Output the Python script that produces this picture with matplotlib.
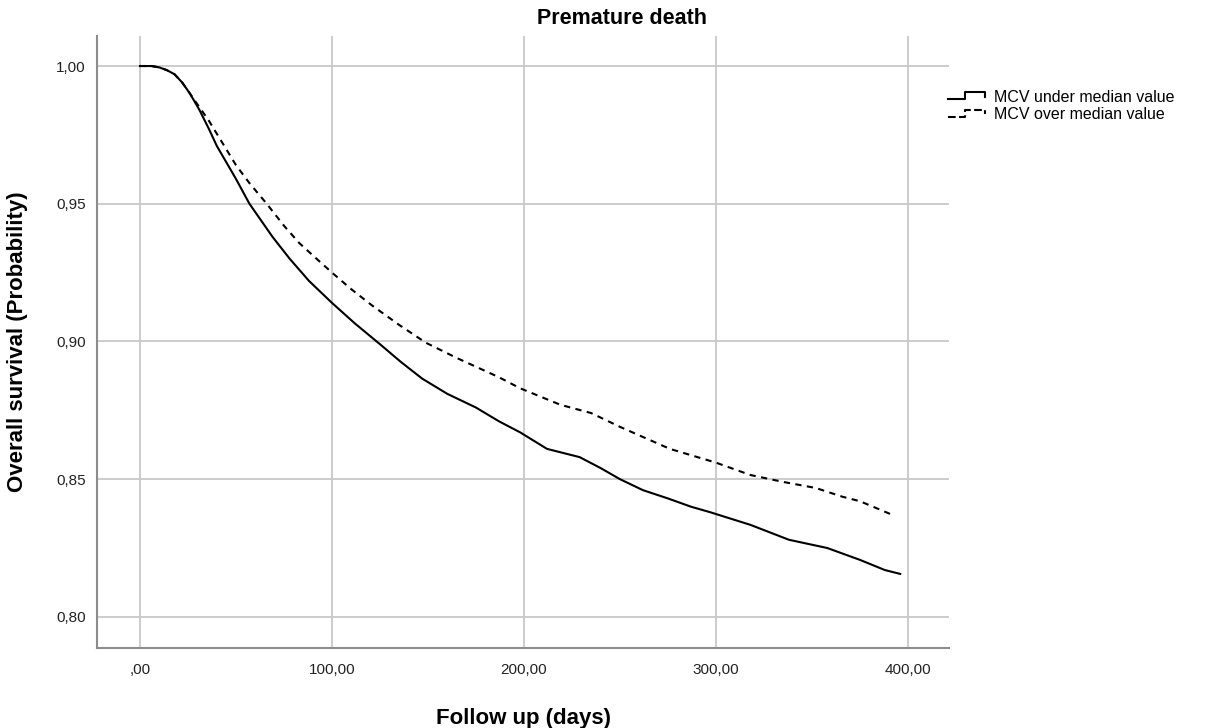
import numpy as np
import matplotlib
matplotlib.use("Agg")
import matplotlib.pyplot as plt
from matplotlib.lines import Line2D
from matplotlib.legend_handler import HandlerBase

plt.rcParams["font.family"] = ["Liberation Sans", "DejaVu Sans"]

# survival estimates (days, probability)
under_days = [0, 6, 10, 14, 18, 22, 26, 31, 36, 40, 45, 50, 57, 63, 69, 78, 88,
              100, 112, 125, 136, 147, 160, 175, 187, 198, 212, 229, 240, 250,
              262, 275, 287, 297, 318, 338, 358, 375, 388, 396]
under_surv = [1.000, 1.000, 0.9995, 0.9985, 0.997, 0.994, 0.990, 0.984, 0.977,
              0.971, 0.965, 0.959, 0.950, 0.944, 0.938, 0.930, 0.922, 0.914,
              0.9065, 0.899, 0.8925, 0.8865, 0.881, 0.876, 0.871, 0.867, 0.861,
              0.858, 0.854, 0.850, 0.846, 0.843, 0.840, 0.838, 0.8334, 0.828,
              0.825, 0.8207, 0.817, 0.8156]

over_days = [0, 6, 10, 14, 18, 22, 26, 31, 36, 43, 50, 57, 66, 75, 83, 92, 100,
             110, 121, 135, 149, 165, 187, 198, 219, 235, 250, 276, 300, 318,
             335, 352, 366, 375, 392]
over_surv = [1.000, 1.000, 0.9995, 0.9985, 0.997, 0.994, 0.990, 0.985, 0.980,
             0.972, 0.964, 0.9575, 0.950, 0.942, 0.9357, 0.930, 0.925, 0.919,
             0.913, 0.906, 0.8995, 0.894, 0.887, 0.883, 0.877, 0.874, 0.869,
             0.861, 0.856, 0.8515, 0.849, 0.8468, 0.8436, 0.842, 0.837]

series_labels = ["MCV under median value", "MCV over median value"]

x_ticks = [0, 100, 200, 300, 400]
x_tick_labels = [",00", "100,00", "200,00", "300,00", "400,00"]
y_ticks = [0.80, 0.85, 0.90, 0.95, 1.00]
y_tick_labels = ["0,80", "0,85", "0,90", "0,95", "1,00"]

DASH = (0, (3.0, 2.6))


class StepHandler(HandlerBase):
    # SPSS style little step glyph in the legend
    def create_artists(self, legend, orig_handle, xdescent, ydescent,
                       width, height, fontsize, trans):
        xs = np.array([0, 0.45, 0.45, 1.0, 1.0]) * width - xdescent
        ys = np.array([0.25, 0.25, 0.85, 0.85, 0.45]) * height - ydescent
        line = Line2D(xs, ys, color=orig_handle.get_color(),
                      linestyle=orig_handle.get_linestyle(),
                      linewidth=orig_handle.get_linewidth())
        line.set_transform(trans)
        return [line]


fig = plt.figure(figsize=(12.32, 7.28), dpi=100)
ax = fig.add_axes([97 / 1232, 80 / 728, 852 / 1232, 612 / 728])

l1, = ax.plot(under_days, under_surv, color="black", lw=1.5, label=series_labels[0])
l2, = ax.plot(over_days, over_surv, color="black", lw=1.5, linestyle=DASH,
              label=series_labels[1])

ax.set_xlim(-22.4, 421.4)
ax.set_ylim(0.7887, 1.0109)
ax.set_xticks(x_ticks)
ax.set_xticklabels(x_tick_labels)
ax.set_yticks(y_ticks)
ax.set_yticklabels(y_tick_labels)
ax.tick_params(length=0, labelsize=11, pad=8, colors="#222222")
ax.tick_params(axis="x", pad=11)

ax.grid(True, color="#c8c8c8", lw=1.3)
ax.set_axisbelow(True)
for side in ["top", "right"]:
    ax.spines[side].set_visible(False)
for side in ["left", "bottom"]:
    ax.spines[side].set_color("#8c8c8c")
    ax.spines[side].set_linewidth(1.5)

ax.set_xlabel("Follow up (days)", fontsize=16, fontweight="bold", labelpad=22)
ax.set_ylabel("Overall survival (Probability)", fontsize=16, fontweight="bold",
              labelpad=20)
fig.text(0.505, 1 - 18 / 728, "Premature death", ha="center", va="center",
         fontsize=15.5, fontweight="bold")

fig.legend(handles=[l1, l2], handler_map={Line2D: StepHandler()},
           loc="upper left", bbox_to_anchor=(948 / 1232, 1 - 90 / 728),
           frameon=False, fontsize=11.5, handlelength=2.3, handletextpad=0.6,
           labelspacing=0.15, borderaxespad=0, borderpad=0)

fig.savefig("out.png", dpi=100)
